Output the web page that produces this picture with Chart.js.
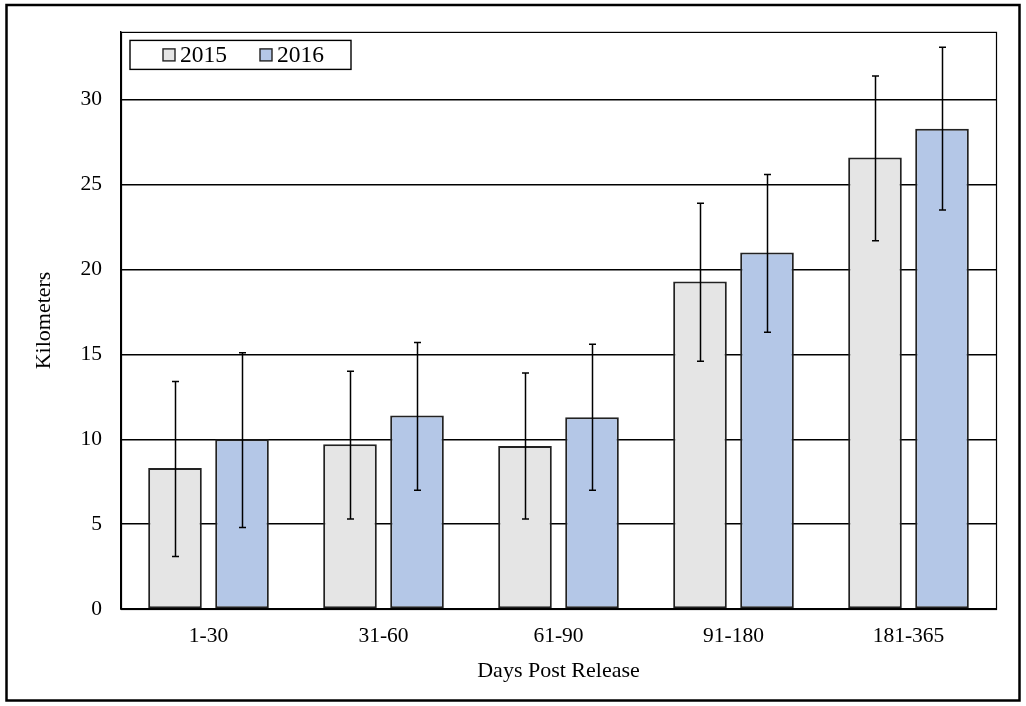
<!DOCTYPE html>
<html>
<head>
<meta charset="utf-8">
<script src="https://cdn.jsdelivr.net/npm/chart.js@4/dist/chart.umd.min.js"></script>
<style>
  html, body { margin: 0; padding: 0; background: #fff; }
  #wrap { position: relative; width: 1026px; height: 706px; }
</style>
</head>
<body>
<div id="wrap"><canvas id="graph" width="1026" height="706"></canvas></div>
<script>
// chart values
const categories = ["1-30", "31-60", "61-90", "91-180", "181-365"];
const seriesNames = ["2015", "2016"];
const km2015 = [8.3, 9.7, 9.6, 19.3, 26.6];
const km2016 = [10.0, 11.4, 11.3, 21.0, 28.3];
const low2015 = [3.1, 5.3, 5.3, 14.6, 21.7];
const high2015 = [13.4, 14.0, 13.9, 23.9, 31.4];
const low2016 = [4.8, 7.0, 7.0, 16.3, 23.5];
const high2016 = [15.1, 15.7, 15.6, 25.6, 33.1];
const yTicks = [0, 5, 10, 15, 20, 25, 30];
const yMax = 34;

const serif = "'Liberation Serif', 'Times New Roman', serif";

// error bars, drawn through the chart's own scales
const errorBars = {
  id: "errorBars",
  afterDatasetsDraw(chart) {
    const ctx = chart.ctx;
    const yScale = chart.scales.y;
    ctx.save();
    ctx.strokeStyle = "#000";
    ctx.lineWidth = 1.5;
    chart.data.datasets.forEach((ds, i) => {
      const meta = chart.getDatasetMeta(i);
      meta.data.forEach((bar, j) => {
        const x = Math.round(bar.x) + 0.5;
        const yLo = yScale.getPixelForValue(ds.errLow[j]);
        const yHi = yScale.getPixelForValue(ds.errHigh[j]);
        ctx.beginPath();
        ctx.moveTo(x, yLo);
        ctx.lineTo(x, yHi);
        ctx.moveTo(x - 3.5, yLo);
        ctx.lineTo(x + 3.5, yLo);
        ctx.moveTo(x - 3.5, yHi);
        ctx.lineTo(x + 3.5, yHi);
        ctx.stroke();
      });
    });
    ctx.restore();
  }
};

// plot border, outer frame and the legend box inside the plot
const frameAndLegend = {
  id: "frameAndLegend",
  beforeDatasetsDraw(chart) {
    const {ctx, chartArea} = chart;
    ctx.save();
    ctx.strokeStyle = "#000";
    ctx.lineWidth = 1.2;
    ctx.strokeRect(chartArea.left + 0.5, chartArea.top + 0.5,
      chartArea.right - chartArea.left, chartArea.bottom - chartArea.top);
    ctx.restore();
  },
  afterDraw(chart) {
    const {ctx, chartArea} = chart;
    ctx.save();
    // outer frame
    ctx.strokeStyle = "#000";
    ctx.lineWidth = 2.5;
    ctx.strokeRect(6.5, 5, 1013, 695.5);

    // legend
    const bx = chartArea.left + 9, by = chartArea.top + 8.5;
    ctx.fillStyle = "#fff";
    ctx.fillRect(bx, by, 221, 29);
    ctx.lineWidth = 1.4;
    ctx.strokeRect(bx, by, 221, 29);
    const itemX = [bx + 33, bx + 130];
    ctx.font = "23.5px " + serif;
    ctx.textBaseline = "middle";
    ctx.textAlign = "left";
    chart.data.datasets.forEach((ds, i) => {
      const sx = itemX[i], sy = by + 8.5;
      ctx.fillStyle = ds.backgroundColor;
      ctx.fillRect(sx, sy, 12, 12);
      ctx.strokeStyle = "#222";
      ctx.lineWidth = 1.4;
      ctx.strokeRect(sx, sy, 12, 12);
      ctx.fillStyle = "#000";
      ctx.fillText(ds.label, sx + 17, by + 15);
    });
    ctx.restore();
  }
};

const ctx = document.getElementById("graph").getContext("2d");
const chart = new Chart(ctx, {
  type: "bar",
  data: {
    labels: categories,
    datasets: [
      {
        label: seriesNames[0],
        data: km2015,
        errLow: low2015,
        errHigh: high2015,
        backgroundColor: "#e5e5e5",
        borderColor: "#222",
        borderWidth: 2,
        borderSkipped: false
      },
      {
        label: seriesNames[1],
        data: km2016,
        errLow: low2016,
        errHigh: high2016,
        backgroundColor: "#b4c7e7",
        borderColor: "#222",
        borderWidth: 2,
        borderSkipped: false
      }
    ]
  },
  options: {
    responsive: false,
    animation: false,
    categoryPercentage: 0.766,
    barPercentage: 0.8,
    layout: { padding: { top: 30, right: 30, left: 0, bottom: 0 } },
    plugins: {
      legend: { display: false },
      tooltip: { enabled: false }
    },
    scales: {
      x: {
        grid: { display: false, drawTicks: false },
        border: { display: true, color: "#000", width: 1.4 },
        ticks: { color: "#000", padding: 14, font: { family: serif, size: 21.5 } },
        title: {
          display: true,
          text: "Days Post Release",
          color: "#000",
          font: { family: serif, size: 22 },
          padding: { top: 0, bottom: 22 }
        },
        afterFit(scale) { scale.height = 97; }
      },
      y: {
        min: 0,
        max: yMax,
        grid: { color: "#000", lineWidth: 1.4, drawTicks: false },
        border: { display: true, color: "#000", width: 1.4 },
        ticks: { color: "#000", padding: 19, font: { family: serif, size: 21.5 } },
        afterBuildTicks(scale) { scale.ticks = yTicks.map(v => ({ value: v })); },
        title: {
          display: true,
          text: "Kilometers",
          color: "#000",
          font: { family: serif, size: 22 },
          padding: { top: 31, bottom: 0 }
        },
        afterFit(scale) { scale.width = 121; }
      }
    }
  },
  plugins: [errorBars, frameAndLegend]
});
</script>
</body>
</html>
